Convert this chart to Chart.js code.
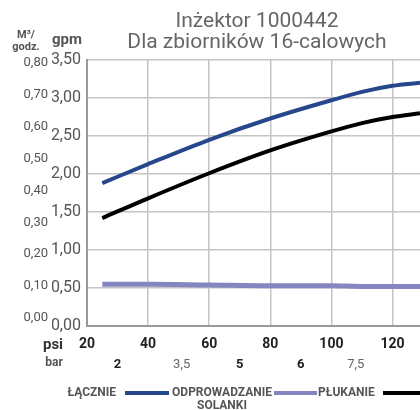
<!DOCTYPE html>
<html><head><meta charset="utf-8">
<script src="https://cdn.jsdelivr.net/npm/chart.js@4"></script>
<style>html,body{margin:0;padding:0;background:#fff}#wrap{width:420px;height:410px;position:relative}</style>
</head><body>
<div id="wrap"><canvas id="c"></canvas></div>
<script>
const titleLines = ['Inżektor 1000442', 'Dla zbiorników 16-calowych'];
const psi = [25, 40, 60, 80, 100, 110, 120, 129];
const total = [1.88, 2.13, 2.45, 2.73, 2.97, 3.08, 3.16, 3.20];
const brine = [0.55, 0.55, 0.54, 0.53, 0.53, 0.52, 0.52, 0.52];
const rinse = [1.42, 1.68, 2.01, 2.31, 2.56, 2.67, 2.75, 2.80];
const psiTicks = [20, 40, 60, 80, 100, 120];
const gpmTicks = [0, 0.5, 1, 1.5, 2, 2.5, 3, 3.5];
const m3Ticks = [0, 0.1, 0.2, 0.3, 0.4, 0.5, 0.6, 0.7, 0.8];
const barTickPsi = [30, 51, 70, 90, 108];
const barLabels = ['2', '3,5', '5', '6', '7,5'];
const barBold = [true, false, true, true, false];
const seriesLabels = ['ŁĄCZNIE', 'ODPROWADZANIE SOLANKI', 'PŁUKANIE'];
const seriesColors = ['#27478c', '#8585c2', '#000000'];

Chart.defaults.font.family = 'Roboto';
const pts = arr => psi.map((p, i) => ({x: p, y: arr[i]}));
const comma = v => Number(v).toFixed(2).replace('.', ',');

const overlay = {
  id: 'overlay',
  afterDraw(chart) {
    const c = chart.ctx;
    c.save();
    c.textBaseline = 'alphabetic';
    c.textAlign = 'center';
    c.fillStyle = '#666';
    c.font = '21px Roboto';
    c.fillText(titleLines[0], 257, 27);
    c.fillText(titleLines[1], 257, 48);
    c.textBaseline = 'middle';
    c.fillStyle = '#555';
    c.font = 'bold 11px Roboto';
    c.fillText('M³/', 26, 35);
    c.fillText('godz.', 26, 47);
    c.font = 'bold 15px Roboto';
    c.fillText('gpm', 67, 40);
    c.fillStyle = '#333';
    c.font = 'bold 15px Roboto';
    c.fillText('psi', 53, 345);
    c.fillStyle = '#555';
    c.font = 'bold 12px Roboto';
    c.fillText('bar', 54, 363);
    // legend
    const ly = 393;
    c.font = 'bold 12px Roboto';
    c.fillStyle = '#555';
    c.textAlign = 'right';
    c.fillText(seriesLabels[0], 116, ly);
    c.lineWidth = 4;
    c.strokeStyle = seriesColors[0];
    c.beginPath(); c.moveTo(125, ly); c.lineTo(169, ly); c.stroke();
    c.textAlign = 'center';
    const parts = seriesLabels[1].split(' ');
    c.fillText(parts[0], 222, ly);
    c.fillText(parts[1], 222, ly + 13);
    c.strokeStyle = seriesColors[1];
    c.beginPath(); c.moveTo(274, ly); c.lineTo(317, ly); c.stroke();
    c.textAlign = 'left';
    c.fillText(seriesLabels[2], 318, ly);
    c.strokeStyle = seriesColors[2];
    c.beginPath(); c.moveTo(383, ly); c.lineTo(420, ly); c.stroke();
    c.restore();
  }
};

new Chart(document.getElementById('c'), {
  type: 'line',
  data: {
    datasets: [
      {label: seriesLabels[1], data: pts(brine), borderColor: seriesColors[1], borderWidth: 5, order: 3},
      {label: seriesLabels[0], data: pts(total), borderColor: seriesColors[0], borderWidth: 4, order: 2},
      {label: seriesLabels[2], data: pts(rinse), borderColor: seriesColors[2], borderWidth: 4, order: 1}
    ]
  },
  options: {
    responsive: true,
    maintainAspectRatio: false,
    animation: false,
    layout: {padding: {top: 60, right: 0, bottom: 30, left: 0}},
    elements: {point: {radius: 0}, line: {tension: 0.4, cubicInterpolationMode: 'monotone', borderCapStyle: 'butt'}},
    plugins: {legend: {display: false}, title: {display: false}, tooltip: {enabled: false}},
    scales: {
      x: {
        type: 'linear', position: 'bottom', min: 20, max: 129, weight: 0,
        afterBuildTicks: s => { s.ticks = psiTicks.map(v => ({value: v})); },
        afterFit: s => { s.height = 28; },
        ticks: {font: {size: 14, weight: 'bold'}, color: '#222', padding: 10, maxRotation: 0, callback: v => String(v)},
        grid: {color: '#c4c4c4', lineWidth: 1.5, drawTicks: false},
        border: {color: '#9a9a9a', width: 2}
      },
      x2: {
        type: 'linear', position: 'bottom', min: 20, max: 129, weight: 1,
        afterBuildTicks: s => { s.ticks = barTickPsi.map(v => ({value: v})); },
        afterFit: s => { s.height = 26; },
        ticks: {
          padding: 3, maxRotation: 0, autoSkip: false,
          callback: (v, i) => barLabels[i],
          font: ctx => ({size: 13, weight: barBold[ctx.index] ? 'bold' : 'normal'}),
          color: ctx => barBold[ctx.index] ? '#222' : '#666'
        },
        grid: {display: false, drawTicks: false},
        border: {display: false}
      },
      y: {
        type: 'linear', position: 'left', min: 0, max: 3.5, weight: 0,
        afterBuildTicks: s => { s.ticks = gpmTicks.map(v => ({value: v})); },
        afterFit: s => { s.width = 35; },
        ticks: {font: {size: 16}, color: '#555', padding: 6, callback: v => comma(v)},
        grid: {color: '#c4c4c4', lineWidth: 1.5, drawTicks: false},
        border: {color: '#9a9a9a', width: 2}
      },
      y2: {
        type: 'linear', position: 'left', min: -0.025, max: 0.809, weight: 1,
        afterBuildTicks: s => { s.ticks = m3Ticks.map(v => ({value: v})); },
        afterFit: s => { s.width = 52; },
        ticks: {font: {size: 13}, color: '#555', padding: 4, callback: v => comma(v)},
        grid: {display: false, drawTicks: false},
        border: {display: false}
      }
    }
  },
  plugins: [overlay]
});
</script>
</body></html>
